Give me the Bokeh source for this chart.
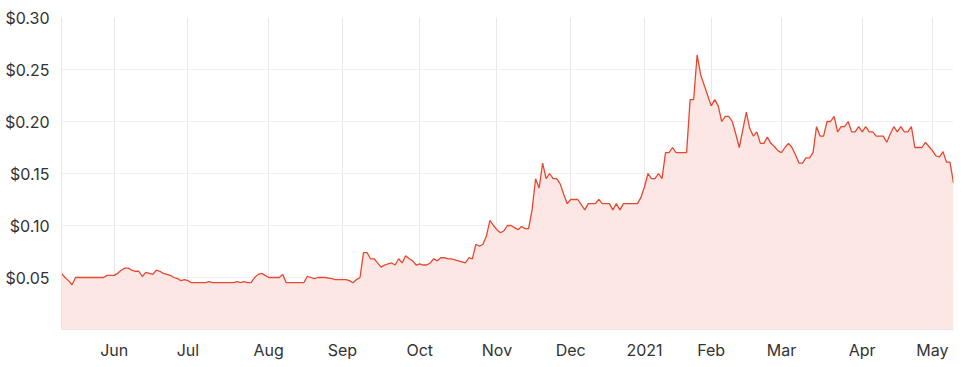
import pandas as pd
from bokeh.plotting import figure
from bokeh.models import Range1d, FixedTicker, NumeralTickFormatter, ColumnDataSource
from bokeh.embed import file_html
from bokeh.resources import INLINE

# ASX trading calendar (x positions are trading-day indexes)
start_date = "2020-05-11"
end_date = "2021-05-11"
holidays = ["2020-06-08", "2020-12-25", "2020-12-28", "2021-01-01",
            "2021-01-26", "2021-04-02", "2021-04-05"]

# closing price per trading day
prices = [
    0.054, 0.050, 0.047, 0.043, 0.050, 0.050, 0.050, 0.050, 0.050, 0.050,
    0.050, 0.050, 0.050, 0.052, 0.052, 0.052, 0.054, 0.057, 0.059, 0.059,
    0.057, 0.056, 0.056, 0.051, 0.055, 0.054, 0.053, 0.057, 0.056, 0.054,
    0.053, 0.052, 0.050, 0.049, 0.047, 0.048, 0.047, 0.045, 0.045, 0.045,
    0.045, 0.045, 0.046, 0.045, 0.045, 0.045, 0.045, 0.045, 0.045, 0.045,
    0.046, 0.045, 0.046, 0.045, 0.045, 0.050, 0.053, 0.054, 0.052, 0.050,
    0.050, 0.050, 0.050, 0.053, 0.045, 0.045, 0.045, 0.045, 0.045, 0.045,
    0.051, 0.050, 0.049, 0.050, 0.050, 0.050, 0.0495, 0.049, 0.048, 0.048,
    0.048, 0.048, 0.047, 0.045, 0.048, 0.050, 0.074, 0.074, 0.068, 0.068,
    0.064, 0.060, 0.062, 0.063, 0.064, 0.062, 0.068, 0.064, 0.071, 0.068,
    0.066, 0.062, 0.063, 0.062, 0.062, 0.064, 0.068, 0.066, 0.069, 0.069,
    0.068, 0.068, 0.067, 0.066, 0.065, 0.064, 0.069, 0.068, 0.082, 0.080,
    0.082, 0.090, 0.105, 0.100, 0.096, 0.093, 0.095, 0.100, 0.100, 0.098,
    0.096, 0.099, 0.097, 0.097, 0.115, 0.145, 0.136, 0.160, 0.145, 0.150,
    0.145, 0.145, 0.140, 0.130, 0.121, 0.125, 0.125, 0.125, 0.120, 0.115,
    0.121, 0.121, 0.121, 0.125, 0.121, 0.121, 0.121, 0.115, 0.121, 0.115,
    0.121, 0.121, 0.121, 0.121, 0.121, 0.127, 0.137, 0.150, 0.145, 0.145,
    0.150, 0.145, 0.170, 0.170, 0.175, 0.170, 0.170, 0.170, 0.170, 0.221,
    0.221, 0.264, 0.245, 0.235, 0.225, 0.215, 0.221, 0.215, 0.200, 0.205,
    0.205, 0.200, 0.188, 0.175, 0.192, 0.209, 0.193, 0.186, 0.190, 0.179,
    0.179, 0.185, 0.179, 0.176, 0.172, 0.170, 0.175, 0.179, 0.175, 0.168,
    0.160, 0.160, 0.165, 0.165, 0.170, 0.195, 0.186, 0.186, 0.200, 0.200,
    0.205, 0.190, 0.195, 0.195, 0.200, 0.190, 0.190, 0.195, 0.190, 0.195,
    0.190, 0.190, 0.186, 0.186, 0.186, 0.180, 0.188, 0.195, 0.190, 0.195,
    0.190, 0.190, 0.195, 0.175, 0.175, 0.175, 0.180, 0.176, 0.172, 0.167,
    0.166, 0.171, 0.161, 0.161, 0.141,
]

y_ticks = [0.05, 0.10, 0.15, 0.20, 0.25, 0.30]
month_labels = {1: "2021", 2: "Feb", 3: "Mar", 4: "Apr", 5: "May", 6: "Jun",
                7: "Jul", 8: "Aug", 9: "Sep", 10: "Oct", 11: "Nov", 12: "Dec"}

dates = pd.bdate_range(start_date, end_date, freq="C", holidays=holidays)
n = min(len(dates), len(prices))
dates = dates[:n]
idx = list(range(n))

x_ticks = []
x_over = {}
prev = None
for i, d in enumerate(dates):
    key = (d.year, d.month)
    if prev is not None and key != prev:
        x_ticks.append(i)
        x_over[i] = month_labels[d.month]
    prev = key

src = ColumnDataSource(dict(x=idx, y=prices[:n]))

FONT = "Inter"
p = figure(width=966, height=367, output_backend="svg", toolbar_location=None,
           x_range=Range1d(0, n - 1), y_range=Range1d(0, 0.30),
           min_border_left=61, min_border_right=13, min_border_top=17,
           min_border_bottom=38)
p.outline_line_color = None
p.background_fill_color = "white"

p.varea(x="x", y1=0, y2="y", source=src, fill_color="#fde7e4", fill_alpha=1.0)
p.line(x="x", y="y", source=src, line_color="#e8472f", line_width=1.3)

p.xaxis.ticker = FixedTicker(ticks=x_ticks)
p.xaxis.major_label_overrides = x_over
p.yaxis.ticker = FixedTicker(ticks=y_ticks)
p.yaxis.formatter = NumeralTickFormatter(format="$0.00")

for ax in (p.xaxis[0], p.yaxis[0]):
    ax.axis_line_color = "#e6e6e6"
    ax.major_tick_line_color = None
    ax.minor_tick_line_color = None
    ax.major_label_text_font = FONT
    ax.major_label_text_font_size = "16px"
    ax.major_label_text_color = "#333333"
p.yaxis.major_label_standoff = 6
p.xaxis.major_label_standoff = 4

p.xgrid.grid_line_color = "#e8e8e8"
p.ygrid.grid_line_color = "#f0f0f0"

open("out.html", "w").write(file_html(p, INLINE))
